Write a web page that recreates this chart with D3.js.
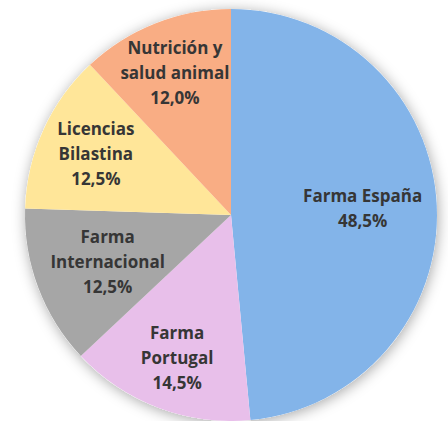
<!DOCTYPE html>
<html lang="es">
<head>
<meta charset="utf-8">
<script src="https://cdn.jsdelivr.net/npm/d3@7"></script>
<style>
  body { margin: 0; background: #fff; }
  text { font-family: "Open Sans", Lato, sans-serif; font-weight: bold; fill: #363636; }
</style>
</head>
<body>
<script>
var categories = [["Farma España"], ["Farma", "Portugal"], ["Farma", "Internacional"], ["Licencias", "Bilastina"], ["Nutrición y", "salud animal"]];
var values = [48.5, 14.5, 12.5, 12.5, 12.0];
var colors = ["#83b4e9", "#e8bfea", "#a6a6a6", "#ffe699", "#f9ad84"];

var width = 448, height = 421;
var cx = 231, cy = 215, r = 206;
// how far out each label sits (fraction of radius)
var labelR = [0.64, 0.74, 0.64, 0.72, 0.74];

var svg = d3.select("body").append("svg")
  .attr("width", width)
  .attr("height", height);

var defs = svg.append("defs");
var f = defs.append("filter").attr("id", "shadow")
  .attr("x", "-20%").attr("y", "-20%").attr("width", "140%").attr("height", "140%");
f.append("feDropShadow")
  .attr("dx", 1).attr("dy", 2).attr("stdDeviation", 7)
  .attr("flood-color", "#000").attr("flood-opacity", 0.35);

var pie = d3.pie().sort(null).value(function(d) { return d; });
var arcs = pie(values);
var arc = d3.arc().innerRadius(0).outerRadius(r);

var g = svg.append("g").attr("transform", "translate(" + cx + "," + cy + ")");

g.append("circle").attr("r", r).attr("fill", "#fff").attr("filter", "url(#shadow)");

g.selectAll("path")
  .data(arcs)
  .enter()
  .append("path")
  .attr("d", arc)
  .attr("fill", function(d, i) { return colors[i]; });

var fmt = function(v) { return v.toFixed(1).replace(".", ",") + "%"; };

g.selectAll("text.lbl")
  .data(arcs)
  .enter()
  .append("text")
  .attr("class", "lbl")
  .attr("text-anchor", "middle")
  .attr("font-size", "17px")
  .each(function(d, i) {
    var a = (d.startAngle + d.endAngle) / 2;
    var rr = r * labelR[i];
    var x = rr * Math.sin(a), y = -rr * Math.cos(a);
    var lines = categories[i].concat([fmt(values[i])]);
    var lh = 25;
    var y0 = y - (lines.length - 1) * lh / 2;
    var t = d3.select(this);
    lines.forEach(function(l, k) {
      t.append("tspan").attr("x", x).attr("y", y0 + k * lh).attr("dy", "0.35em").text(l);
    });
  });
</script>
</body>
</html>
